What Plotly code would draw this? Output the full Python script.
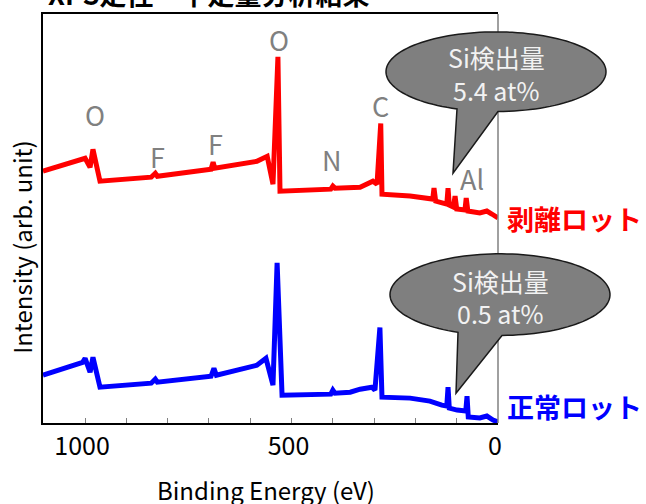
import numpy as np
import plotly.graph_objects as go

# ---- data ----
energy_peel = [1102, 1000, 988, 981, 964, 840, 830, 825, 695, 690, 686, 584, 559, 545, 533, 528,
               405, 400, 395, 334, 303, 293, 284, 281, 213, 165, 158, 155, 151, 133, 124, 121,
               118, 108, 104, 100, 80, 77, 73, 44, 27, 15, 0]
intensity_peel = [253, 266, 257, 275, 243, 247, 251, 248, 255, 262, 256, 263, 268, 240, 368, 233,
                  235, 238, 236, 237, 243, 240, 301, 230, 228, 226, 225, 236, 223, 221, 220, 236,
                  219, 217, 228, 215, 214, 226, 213, 211, 213, 210, 206]

energy_normal = [1102, 1006, 1000, 988, 981, 964, 840, 830, 825, 695, 688, 682, 584, 562, 545, 535,
                 523, 405, 400, 395, 358, 334, 305, 298, 286, 281, 213, 165, 136, 124, 121, 118,
                 99, 78, 75, 72, 44, 27, 12, 0]
intensity_normal = [48, 61, 65, 51, 66, 36, 40, 44, 41, 47, 55, 48, 58, 65, 38, 161,
                    28, 29, 33, 30, 31, 34, 36, 33, 96, 26, 25, 22, 18, 17, 36, 15,
                    13, 12, 27, 6, 5, 7, 3, 1]

x_tick_values = list(range(1000, -1, -100))
x_tick_labels = ["1000", "", "", "", "", "500", "", "", "", "", "0"]

element_labels = ["O", "F", "F", "O", "N", "C", "Al"]
lot_labels = ["剥離ロット", "正常ロット"]
si_amounts = ["5.4 at%", "0.5 at%"]

# ---- layout geometry (pixels) ----
W, H = 646, 504
L, R, T, B = 43, 498, 12, 423
FONT = "Noto Sans CJK JP"


def px(x):
    return (x - L) / (R - L)


def py(y):
    return (B - y) / (B - T)


def text(fig, s, x, y, size, color, xanchor="center", angle=0):
    fig.add_annotation(text=s, xref="paper", yref="paper", x=px(x), y=py(y),
                       xanchor=xanchor, yanchor="middle", showarrow=False,
                       textangle=angle, font=dict(size=size, family=FONT, color=color))


fig = go.Figure()
fig.add_trace(go.Scatter(x=energy_peel, y=intensity_peel, mode="lines",
                         line=dict(color="#ff0000", width=5), showlegend=False))
fig.add_trace(go.Scatter(x=energy_normal, y=intensity_normal, mode="lines",
                         line=dict(color="#0000ff", width=5), showlegend=False))

fig.update_layout(
    width=W, height=H,
    margin=dict(l=L, r=W - R, t=T, b=H - B),
    paper_bgcolor="white", plot_bgcolor="white",
    font=dict(family=FONT, color="black"),
    xaxis=dict(range=[1102, 0], tickvals=x_tick_values, ticktext=x_tick_labels,
               ticks="inside", ticklen=5, tickcolor="#808080", tickwidth=1,
               showline=True, linecolor="black", linewidth=1.5, mirror=True,
               showgrid=False, zeroline=False,
               tickfont=dict(size=25, family=FONT, color="black"),
               ticklabelshift=3),
    yaxis=dict(range=[0, 411], showticklabels=False, ticks="",
               showline=True, linecolor="black", linewidth=1.5,
               showgrid=False, zeroline=False),
)

# right border (gray)
fig.add_shape(type="line", xref="paper", yref="paper", x0=1, x1=1, y0=0, y1=1,
              line=dict(color="#808080", width=1.5))

# axis titles
text(fig, "Binding Energy (eV)", 266, 490, 24, "black")
text(fig, "Intensity (arb. unit)", 22, 246, 24, "black", angle=-90)

# cut-off title
text(fig, "<b>XPS定性・半定量分析結果</b>", 46, -9, 27, "black", xanchor="left")

# element labels
label_pos = [(95, 113), (157, 155), (215, 142), (279, 38), (332, 158), (380, 104), (472, 177)]
for txt, (lx, ly) in zip(element_labels, label_pos):
    text(fig, txt, lx, ly, 27, "#808080")

# lot labels
text(fig, "<b>" + lot_labels[0] + "</b>", 505, 217, 27, "#ff0000", xanchor="left")
text(fig, "<b>" + lot_labels[1] + "</b>", 505, 406, 27, "#0000ff", xanchor="left")


def bubble_path(cx, cy, a, b, xl, xr, tip):
    tR = np.arccos((xr - cx) / a)
    tL = np.arccos((xl - cx) / a)
    ts = np.linspace(tR, tL - 2 * np.pi, 120)
    pts = [(cx + a * np.cos(t), cy + b * np.sin(t)) for t in ts]
    d = "M {:.5f},{:.5f}".format(px(pts[0][0]), py(pts[0][1]))
    for x, y in pts[1:]:
        d += " L {:.5f},{:.5f}".format(px(x), py(y))
    d += " L {:.5f},{:.5f} Z".format(px(tip[0]), py(tip[1]))
    return d


bubbles = [
    dict(cx=496, cy=70, a=110, b=40, xl=457, xr=498, tip=(453, 172), t1=55, t2=88),
    dict(cx=500, cy=294, a=110, b=41, xl=458, xr=502, tip=(456, 393), t1=280, t2=312),
]
for bub, amt in zip(bubbles, si_amounts):
    fig.add_shape(type="path", xref="paper", yref="paper",
                  path=bubble_path(bub["cx"], bub["cy"], bub["a"], bub["b"],
                                   bub["xl"], bub["xr"], bub["tip"]),
                  fillcolor="#7f7f7f", line=dict(color="#1a1a1a", width=1.5))
    text(fig, "Si検出量", bub["cx"], bub["t1"], 25, "#f2f2f2")
    text(fig, amt, bub["cx"], bub["t2"], 25, "#f2f2f2")

fig.write_html("out.html", config={"displayModeBar": False},
               post_script="document.body.style.margin='0';")
